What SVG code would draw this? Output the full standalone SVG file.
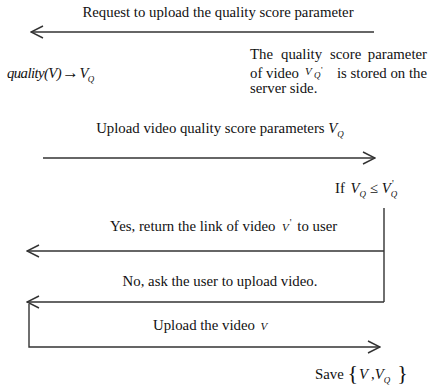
<svg xmlns="http://www.w3.org/2000/svg" width="428" height="389" viewBox="0 0 428 389">
  <defs>
    <style>
      .t { font-family: "Liberation Serif", "Times New Roman", serif; font-size: 14.8px; fill: #111; }
      .m { font-style: italic; }
      .s { font-size: 9px; }
      .p { font-size: 10px; }
      .ln { fill: none; stroke: #333; stroke-width: 1.4; }
    </style>
    <marker id="arr" viewBox="0 0 14 14" refX="13" refY="7" markerWidth="14" markerHeight="14" markerUnits="userSpaceOnUse" orient="auto">
      <path d="M1,1 L13,7 L1,13" fill="none" stroke="#333" stroke-width="1.4"/>
    </marker>
  </defs>
  <rect width="428" height="389" fill="#fff"/>

  <g id="connectors">
    <path class="ln" d="M374,32 H31" marker-end="url(#arr)"/>
    <path class="ln" d="M43,158 H375" marker-end="url(#arr)"/>
    <path class="ln" d="M384,208 V302"/>
    <path class="ln" d="M384,251 H27" marker-end="url(#arr)"/>
    <path class="ln" d="M384,302 H27" marker-end="url(#arr)"/>
    <path class="ln" d="M29,304 V347 H380" marker-end="url(#arr)"/>
  </g>

  <g id="msg-request">
    <text class="t" x="218" y="17" text-anchor="middle">Request to upload the quality score parameter</text>
  </g>

  <g id="client-quality">
    <text class="t m" x="7" y="78" letter-spacing="-0.6">quality(V)<tspan font-style="normal" font-size="17" dx="1">→</tspan><tspan dx="1">V</tspan><tspan class="s" dy="4">Q</tspan></text>
  </g>

  <g id="server-note">
    <text class="t" y="59"><tspan x="250">The</tspan><tspan x="281">quality</tspan><tspan x="330">score</tspan><tspan x="427" text-anchor="end">parameter</tspan></text>
    <text class="t" y="78"><tspan x="250">of video</tspan><tspan class="m" x="305" y="75" font-size="11">V</tspan><tspan class="s m" x="314" y="78">Q</tspan><tspan class="s" x="321" y="73">'</tspan><tspan x="427" y="78" text-anchor="end">is stored on the</tspan></text>
    <text class="t" x="250" y="93">server side.</text>
  </g>

  <g id="msg-upload-score">
    <text class="t" x="220" y="133" text-anchor="middle">Upload video quality score parameters <tspan class="m">V</tspan><tspan class="s m" dy="4">Q</tspan></text>
  </g>

  <g id="server-check">
    <text class="t" x="335" y="193">If <tspan class="m" dx="2">V</tspan><tspan class="s m" dy="4">Q</tspan><tspan dy="-4"> ≤ </tspan><tspan class="m">V</tspan><tspan class="s m" dy="4">Q</tspan></text>
    <text class="t p" x="392" y="187">'</text>
  </g>

  <g id="msg-yes">
    <text class="t" x="110" y="231">Yes, return the link of video <tspan class="m" font-size="11" dx="3">V</tspan><tspan class="p" dx="1" dy="-5">'</tspan><tspan dy="5" dx="2"> to user</tspan></text>
  </g>

  <g id="msg-no">
    <text class="t" x="220" y="286" text-anchor="middle">No, ask the user to upload video.</text>
  </g>

  <g id="msg-upload-video">
    <text class="t" x="153" y="330">Upload the video <tspan class="m" font-size="11" dx="2">V</tspan></text>
  </g>

  <g id="server-save">
    <text class="t" x="315" y="379">Save <tspan font-size="22" dy="1">{</tspan><tspan class="m" dy="-1" dx="1">V</tspan><tspan dx="3">,</tspan><tspan class="m">V</tspan><tspan class="s m" dy="4">Q</tspan><tspan font-size="22" dy="-3" dx="7">}</tspan></text>
  </g>
</svg>
